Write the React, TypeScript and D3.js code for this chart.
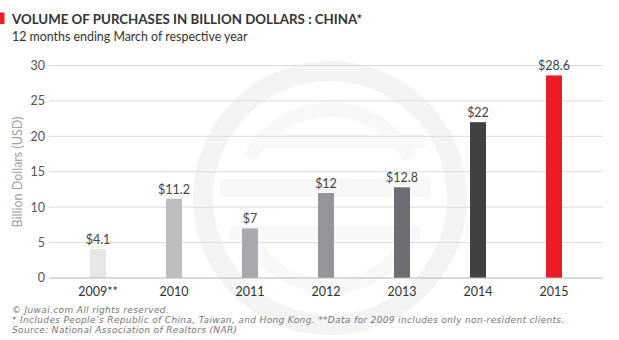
import React from "react";
import * as d3 from "d3";

const years = ["2009**", "2010", "2011", "2012", "2013", "2014", "2015"];
const values = [4.1, 11.2, 7, 12, 12.8, 22, 28.6];
const valueLabels = ["$4.1", "$11.2", "$7", "$12", "$12.8", "$22", "$28.6"];
const barColors = ["#e6e7e8", "#bcbec0", "#a7a9ac", "#939598", "#6d6e71", "#414042", "#ed1c24"];
const yTicks = [0, 5, 10, 15, 20, 25, 30];
const title = "VOLUME OF PURCHASES IN BILLION DOLLARS : CHINA*";
const subtitle = "12 months ending March of respective year";
const yAxisTitle = "Billion Dollars (USD)";
const footnotes = [
  "© Juwai.com All rights reserved.",
  "* Includes People’s Republic of China, Taiwan, and Hong Kong. **Data for 2009 includes only non-resident clients.",
  "Source: National Association of Realtors (NAR)",
];

const W = 619;
const H = 340;
const FONT = "Lato, 'Open Sans', sans-serif";

export default function App() {
  const x = d3.scaleBand<string>().domain(years).range([60, 592]).paddingInner(0.79).paddingOuter(0.395);
  const y = d3.scaleLinear().domain([0, 30]).range([278, 65.5]);
  const gridX0 = 49;
  const gridX1 = 603;
  const wm = { cx: 330, cy: 198, r: 127 };
  return (
    <div style={{ position: "absolute", left: 0, top: 0 }}>
      <svg width={W} height={H} style={{ display: "block", background: "#fff" }}>
        {/* watermark */}
        <g fill="none" stroke="#f4f4f4">
          <circle cx={wm.cx} cy={wm.cy} r={wm.r} strokeWidth={20} />
        </g>
        <g fill="none" stroke="#f8f8f8">
          <path
            d={`M ${wm.cx - 80} ${wm.cy - 40} A 90 90 0 0 1 ${wm.cx + 80} ${wm.cy - 40}`}
            strokeWidth={14}
          />
          <line x1={wm.cx - 70} y1={wm.cy - 57} x2={wm.cx + 95} y2={wm.cy - 57} strokeWidth={14} />
          <line x1={wm.cx - 110} y1={wm.cy - 10} x2={wm.cx + 100} y2={wm.cy - 10} strokeWidth={18} />
          <line x1={wm.cx - 100} y1={wm.cy + 35} x2={wm.cx + 90} y2={wm.cy + 35} strokeWidth={14} />
          <path
            d={`M ${wm.cx - 80} ${wm.cy + 40} A 90 90 0 0 0 ${wm.cx + 80} ${wm.cy + 40}`}
            strokeWidth={14}
          />
        </g>
        {/* title */}
        <rect x={0} y={12.5} width={4.5} height={11.5} fill="#ed1c24" />
        <text x={12} y={24} fontFamily={FONT} fontWeight={700} fontSize={13.3} fill="#333">
          {title}
        </text>
        <text x={12} y={41} fontFamily={FONT} fontSize={12.4} fill="#333">
          {subtitle}
        </text>
        {/* grid + y ticks */}
        {yTicks.map((t) => (
          <g key={t}>
            {t !== 0 && (
              <line x1={gridX0} x2={gridX1} y1={y(t)} y2={y(t)} stroke="#dcdcdc" strokeWidth={1} />
            )}
            <text
              x={45}
              y={y(t)}
              dy="0.35em"
              textAnchor="end"
              fontFamily={FONT}
              fontSize={12.5}
              fill="#555"
            >
              {t}
            </text>
          </g>
        ))}
        <text
          transform={`translate(22, 172) rotate(-90)`}
          textAnchor="middle"
          fontFamily={FONT}
          fontSize={12.5}
          fill="#a0a0a0"
        >
          {yAxisTitle}
        </text>
        {/* bars */}
        {years.map((yr, i) => (
          <g key={yr}>
            <rect
              x={x(yr)}
              y={y(values[i])}
              width={x.bandwidth()}
              height={y(0) - y(values[i])}
              fill={barColors[i]}
            />
            <text
              x={(x(yr) as number) + x.bandwidth() / 2}
              y={y(values[i]) - 5}
              textAnchor="middle"
              fontFamily={FONT}
              fontSize={12.5}
              fill="#444"
            >
              {valueLabels[i]}
            </text>
            <text
              x={(x(yr) as number) + x.bandwidth() / 2}
              y={296}
              textAnchor="middle"
              fontFamily={FONT}
              fontSize={12.5}
              fill="#333"
            >
              {yr}
            </text>
          </g>
        ))}
        <line x1={gridX0} x2={gridX1} y1={y(0)} y2={y(0)} stroke="#b8b8b8" strokeWidth={1.2} />
        {/* footnotes */}
        {footnotes.map((f, i) => (
          <text
            key={i}
            x={12}
            y={313.3 + i * 10}
            fontFamily="'DejaVu Sans', 'Open Sans', sans-serif"
            fontStyle="italic"
            fontSize={9}
            letterSpacing={0.35}
            fill="#777"
          >
            {f}
          </text>
        ))}
      </svg>
    </div>
  );
}
